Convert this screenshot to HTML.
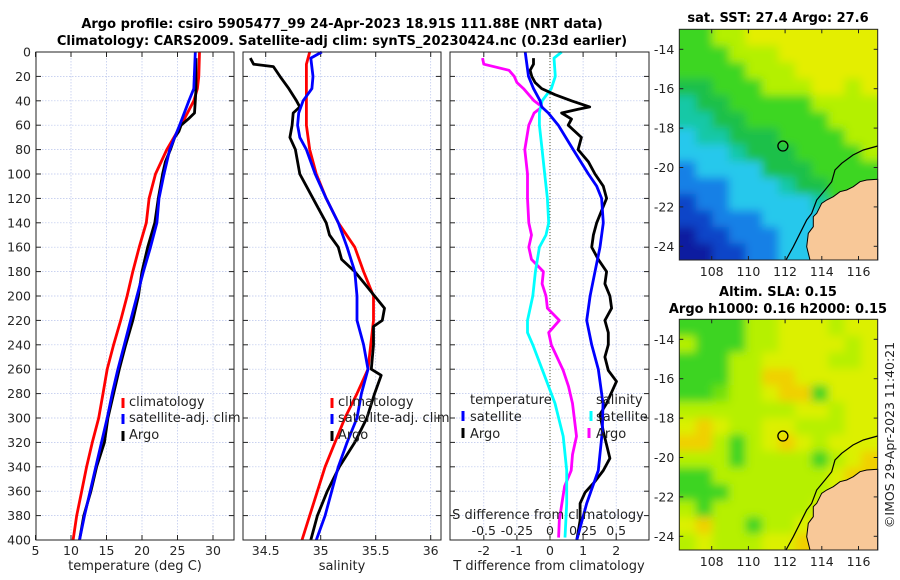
<!DOCTYPE html>
<html><head><meta charset="utf-8"><style>
body{margin:0;background:#fff;}
svg{display:block;font-family:"DejaVu Sans","Liberation Sans",sans-serif;}
</style></head><body>
<svg id="fig" width="900" height="580" viewBox="0 0 900 580" xmlns="http://www.w3.org/2000/svg">
<defs>
<filter id="blur" x="-5%" y="-5%" width="110%" height="110%"><feGaussianBlur stdDeviation="4.5" edgeMode="duplicate"/></filter>
<clipPath id="clip1"><rect x="679.3" y="29.3" width="198.4" height="230.7"/></clipPath>
<clipPath id="clip2"><rect x="679.3" y="319.3" width="198.4" height="230.7"/></clipPath>
</defs>
<text x="342" y="28" text-anchor="middle" font-size="13" font-weight="bold" fill="#000">Argo profile: csiro 5905477_99 24-Apr-2023 18.91S 111.88E (NRT data)</text>
<text x="342" y="45" text-anchor="middle" font-size="13" font-weight="bold" fill="#000">Climatology: CARS2009. Satellite-adj clim: synTS_20230424.nc (0.23d earlier)</text>
<text x="778" y="22" text-anchor="middle" font-size="13" font-weight="bold">sat. SST: 27.4 Argo: 27.6</text>
<text x="778" y="296" text-anchor="middle" font-size="13" font-weight="bold">Altim. SLA: 0.15</text>
<text x="778" y="313" text-anchor="middle" font-size="13" font-weight="bold">Argo h1000: 0.16 h2000: 0.15</text>
<text transform="translate(894,435) rotate(-90)" text-anchor="middle" font-size="12.5" fill="#222">©IMOS 29-Apr-2023 11:40:21</text>
<g id="g"></g>
</svg>
<script>
// ---------- data ----------
const depthsClimT = [0,20,30,40,60,80,100,120,140,160,180,200,220,240,260,280,300,320,340,360,380,400];
const climTemp   = [28.1,28.0,27.8,27.3,25.5,23.5,21.9,21.0,20.6,19.6,18.7,17.9,17.0,16.0,15.1,14.5,13.9,13.0,12.2,11.5,10.8,10.3];
const depthsSatT = [0,30,40,60,80,100,120,140,160,180,200,220,240,260,280,300,320,340,360,380,400];
const satTemp    = [27.5,27.3,26.6,25.3,23.9,23.1,22.4,22.1,21.2,20.2,19.3,18.4,17.5,16.6,15.8,15.1,14.3,13.5,12.7,11.9,11.2];
const depthsArgo = [5,10,20,30,40,50,55,60,65,70,80,90,100,110,120,140,160,180,200,220,240,260,280,300,320,340,360,380,400];
const argoTemp   = [27.6,27.6,27.6,27.6,27.5,27.4,26.5,25.5,25.2,24.6,24.0,23.3,22.9,22.6,22.3,21.8,20.8,20.0,19.5,18.7,17.7,16.8,16.0,15.2,14.7,13.6,12.8,11.8,11.2];

const depthsClimS = [0,10,60,80,100,120,140,160,180,200,220,260,280,300,340,380,400];
const climSal     = [34.90,34.87,34.87,34.90,34.96,35.05,35.16,35.31,35.39,35.48,35.48,35.43,35.33,35.22,35.04,34.90,34.83];
const depthsSatS  = [0,5,20,30,40,50,60,70,80,100,120,140,160,180,200,220,240,260,280,300,320,340,360,380,400];
const satSal      = [35.01,34.91,34.93,34.92,34.84,34.80,34.79,34.81,34.87,34.95,35.05,35.16,35.24,35.31,35.33,35.33,35.39,35.43,35.37,35.33,35.24,35.16,35.10,35.04,34.96];
const depthsArgoS = [5,10,12,20,30,40,45,50,60,70,80,100,110,120,140,150,160,170,180,190,200,210,220,225,240,260,265,275,280,300,320,340,360,380,400];
const argoSal     = [34.36,34.39,34.57,34.63,34.71,34.78,34.81,34.75,34.74,34.72,34.77,34.81,34.87,34.93,35.05,35.08,35.16,35.19,35.31,35.40,35.49,35.58,35.56,35.48,35.48,35.46,35.55,35.51,35.49,35.42,35.31,35.17,35.06,34.97,34.91];

const depthsDT    = [0,20,30,40,45,50,60,80,100,110,120,140,160,180,200,220,240,260,288,311,343,370,400];
const satTdiff    = [-0.75,-0.65,-0.50,-0.30,-0.25,-0.05,0.25,0.70,1.16,1.41,1.56,1.61,1.51,1.36,1.21,1.11,1.26,1.46,1.60,1.58,1.46,1.11,0.81];
const depthsADT   = [5,10,15,20,25,30,35,40,45,47,50,55,60,70,80,90,100,110,120,130,140,150,160,170,180,190,200,210,220,230,240,250,261,270,288,297,311,333,343,352,361,370,384,400];
const argoTdiff   = [-0.50,-0.50,-0.60,-0.55,-0.45,-0.25,0.15,0.65,1.20,0.85,0.35,0.65,0.55,0.95,0.85,1.16,1.36,1.61,1.71,1.56,1.41,1.31,1.26,1.46,1.71,1.66,1.81,1.86,1.66,1.76,1.76,1.66,1.76,2.01,1.71,1.51,1.61,1.81,1.61,1.36,1.06,0.91,0.91,0.81];
const depthsDS    = [0,5,20,30,40,50,60,80,100,120,140,150,160,180,200,220,230,240,260,270,288,315,343,370,398];
const satSdiff    = [0.088,0.03,0.04,0.01,-0.06,-0.08,-0.08,-0.06,-0.04,-0.02,-0.01,-0.03,-0.08,-0.11,-0.13,-0.17,-0.17,-0.13,-0.06,-0.025,0.038,0.10,0.126,0.126,0.113];
const depthsADS   = [5,10,15,20,25,30,40,45,50,60,80,100,120,140,150,160,170,180,190,200,210,220,230,240,261,274,288,315,330,343,356,370,384,398];
const argoSdiff   = [-0.51,-0.50,-0.31,-0.27,-0.25,-0.20,-0.12,-0.06,-0.12,-0.16,-0.19,-0.17,-0.17,-0.16,-0.14,-0.16,-0.14,-0.05,-0.06,-0.03,-0.02,0.07,-0.01,0.01,0.10,0.14,0.17,0.20,0.17,0.16,0.11,0.09,0.07,0.065];

const depthTicks = [0,20,40,60,80,100,120,140,160,180,200,220,240,260,280,300,320,340,360,380,400];
const tempTicks = [5,10,15,20,25,30];
const salTicks = [34.5,35,35.5,36];
const tdiffTicks = [-2,-1,0,1,2];
const sdiffTicks = [-0.5,-0.25,0,0.25,0.5];
const sdiffLabels = ['-0.5','-0.25','0','0.25','0.5'];
const latTicks = [-14,-16,-18,-20,-22,-24];
const lonTicks = [108,110,112,114,116];

const sstGrid = [
"GGLLYYYYYYYY","GGGLLLYYYYYY","GGGGLLLYYYYY","DDGGGLLLYYLY","TDDGGGGGLLLL","TTDDGGGGGLLL",
"CTTDDDGGGGLL","CCCTDDDGGGGL","BCCCCDDDGGGG","BBBCCCTDDGGG","NBBCCCCCTGGT","NNBBBCCCCTTC",
"KNNBBBCCCCBC","KKNNBBCCCCNC"];
const slaGrid = [
"GGGGLLYYYLYY","LGGGLLYYYYLY","GGGLLYYYYLLY","GGGLLOOYYYYY","GGMLLYOOGYYY","LLLLLLLYYLYY",
"YOYLLYYLLLYY","OOLGLYOYLYYY","LLLGLLLLGLYO","GGLLLLLLLYOO","GGGLLLLLLYOO","LGLLLLLLYOOO",
"YOLLGLLYOOOO","LYLLLYYOOOOO"];
const sstColors = {Y:"#e4ee00",L:"#b4f000",G:"#3ed624",D:"#1ec04a",T:"#14c8a6",C:"#28c8ec",B:"#1680e6",N:"#1044c8",K:"#0a1aa0"};
const slaColors = {Y:"#dcf000",O:"#f0d000",L:"#b6f000",G:"#3cd420",M:"#72e010"};

// ---------- helpers ----------
const NS="http://www.w3.org/2000/svg";
const root=document.getElementById('g');
function el(tag,attrs,parent){const e=document.createElementNS(NS,tag);for(const k in attrs)e.setAttribute(k,attrs[k]);(parent||root).appendChild(e);return e;}
const top0=52, bot0=540;
const yD = d => top0 + d*(bot0-top0)/400;
function lin(d0,d1,r0,r1){return v=>r0+(v-d0)*(r1-r0)/(d1-d0);}

function panel(name,x0,x1,xs,ticks,labels,showY){
  const g=el('g',{});
  
  
  el('rect',{x:x0,y:top0,width:x1-x0,height:bot0-top0,fill:'#fff'},g);
  depthTicks.forEach(d=>{
    const y=yD(d);
    if(d>0&&d<400){const gl=el('line',{x1:x0,x2:x1,y1:y,y2:y,stroke:'#b8c4ec','stroke-width':0.7,'stroke-dasharray':'1.5,1.5'},g);
    }
    el('line',{x1:x0,x2:x0+5,y1:y,y2:y,stroke:'#222'},g);
    el('line',{x1:x1-5,x2:x1,y1:y,y2:y,stroke:'#222'},g);
    if(showY){const t=el('text',{x:x0-5,y:y+4.5,'text-anchor':'end','font-size':12.5,fill:'#262626'},g);t.textContent=d;
      }
  });
  ticks.forEach((v,i)=>{
    const x=xs(v);
    if(x>x0+1&&x<x1-1){const gl=el('line',{x1:x,x2:x,y1:top0,y2:bot0,stroke:'#b8c4ec','stroke-width':0.7,'stroke-dasharray':'1.5,1.5'},g);
      }
    el('line',{x1:x,x2:x,y1:bot0,y2:bot0-5,stroke:'#222'},g);
    el('line',{x1:x,x2:x,y1:top0,y2:top0+5,stroke:'#222'},g);
    const t=el('text',{x:x,y:bot0+15,'text-anchor':'middle','font-size':12.5,fill:'#262626'},g);t.textContent=labels[i];
    
  });
  return g;
}
function frame(g,x0,x1){el('rect',{x:x0,y:top0,width:x1-x0,height:bot0-top0,fill:'none',stroke:'#222','stroke-width':1},g);}
function series(g,name,depths,vals,xs,color){
  const pts=depths.map((d,i)=>xs(vals[i]).toFixed(1)+','+yD(d).toFixed(1)).join(' ');
  const p=el('polyline',{points:pts,fill:'none',stroke:color,'stroke-width':2.8,'stroke-linejoin':'round'},g);
  
  
}
function txt(g,name,x,y,s,size,anchor){const t=el('text',{x:x,y:y,'font-size':size||13,fill:'#222','text-anchor':anchor||'start'},g);t.textContent=s;
  return t;}
function mark(g,x,y,color){const m=el('line',{x1:x,x2:x,y1:y-10,y2:y,stroke:color,'stroke-width':3},g);
  }

// ---------- panel 1 temperature ----------
const xT=lin(5,30,35.5,213);
const p1=panel('temperature-panel',36,234,xT,tempTicks,tempTicks.map(String),true);
series(p1,'climatology-temperature-line',depthsClimT,climTemp,xT,'#f00');
series(p1,'argo-temperature-line',depthsArgo,argoTemp,xT,'#000');
series(p1,'satellite-temperature-line',depthsSatT,satTemp,xT,'#00f');
frame(p1,36,234);
mark(p1,123,408,'#f00');txt(p1,'legend-climatology',129,406,'climatology');
mark(p1,123,424,'#00f');txt(p1,'legend-satellite-adj',129,422,'satellite-adj. clim');
mark(p1,123,441,'#000');txt(p1,'legend-argo',129,439,'Argo');
txt(p1,'temperature-axis-title',135,570,'temperature (deg C)',13,'middle');

// ---------- panel 2 salinity ----------
const xS=lin(34.5,36,265.7,430.7);
const p2=panel('salinity-panel',243,441,xS,salTicks,['34.5','35','35.5','36'],false);
series(p2,'climatology-salinity-line',depthsClimS,climSal,xS,'#f00');
series(p2,'argo-salinity-line',depthsArgoS,argoSal,xS,'#000');
series(p2,'satellite-salinity-line',depthsSatS,satSal,xS,'#00f');
frame(p2,243,441);
mark(p2,332,408,'#f00');txt(p2,'legend-climatology-2',338,406,'climatology');
mark(p2,332,424,'#00f');txt(p2,'legend-satellite-adj-2',338,422,'satellite-adj. clim');
mark(p2,332,441,'#000');txt(p2,'legend-argo-2',338,439,'Argo');
txt(p2,'salinity-axis-title',342,570,'salinity',13,'middle');

// ---------- panel 3 differences ----------
const xDT=lin(0,1,550,583.1);
const xDS=lin(0,0.25,550,583.1);
const p3=panel('difference-panel',450,649,xDT,tdiffTicks,tdiffTicks.map(String),false);
const zl=el('line',{x1:xDT(0),x2:xDT(0),y1:top0,y2:bot0,stroke:'#555533','stroke-width':1,'stroke-dasharray':'1,2'},p3);

series(p3,'argo-salinity-diff-line',depthsADS,argoSdiff,xDS,'#f0f');
series(p3,'satellite-salinity-diff-line',depthsDS,satSdiff,xDS,'#0ff');
series(p3,'argo-temperature-diff-line',depthsADT,argoTdiff,xDT,'#000');
series(p3,'satellite-temperature-diff-line',depthsDT,satTdiff,xDT,'#00f');
frame(p3,450,649);
txt(p3,'legend-temperature-header',470,404,'temperature');
mark(p3,463,421,'#00f');txt(p3,'legend-temp-satellite',470,421,'satellite');
mark(p3,463,438,'#000');txt(p3,'legend-temp-argo',470,438,'Argo');
txt(p3,'legend-salinity-header',596,404,'salinity');
mark(p3,591,421,'#0ff');txt(p3,'legend-sal-satellite',596,421,'satellite');
mark(p3,589,438,'#f0f');txt(p3,'legend-sal-argo',596,438,'Argo');
txt(p3,'s-diff-axis-title',548,519,'S difference from climatology',13,'middle');
sdiffTicks.forEach((v,i)=>{txt(p3,'s-diff-tick-label',xDS(v),535,sdiffLabels[i],12.5,'middle');});
txt(p3,'t-diff-axis-title',549,570,'T difference from climatology',13,'middle');

// ---------- maps ----------
function map(name,yoff,grid,colors,clipId){
  const g=el('g',{});
  
  
  const L=679.3,R=877.7,T=29.3+yoff,B=260+yoff;
  const cols=grid[0].length,rows=grid.length,cw=(R-L)/cols,ch=(B-T)/rows;
  const cg=el('g',{'clip-path':'url(#'+clipId+')'},g);
  const bg=el('g',{filter:'url(#blur)'},cg);
  for(let r=-1;r<=rows;r++){const row=grid[Math.min(rows-1,Math.max(0,r))];
    for(let c=-1;c<=cols;c++){const ch_=row[Math.min(cols-1,Math.max(0,c))];
      el('rect',{x:(L+c*cw).toFixed(2),y:(T+r*ch).toFixed(2),width:(cw+0.5).toFixed(2),height:(ch+0.5).toFixed(2),fill:colors[ch_]},bg);}}
  const o=(x,y)=>x+','+(y+yoff);
  const land=[[877.7,179.3],[866.7,180],[860,181.7],[853.3,186.7],[846.7,190],[840,191.7],[833.3,196.7],[826.7,200],[821.7,203.3],[816.7,213.3],[813.3,216.7],[813.3,226.7],[808.3,233.3],[806.7,246.7],[810,260],[877.7,260]];
  const lp=el('polygon',{points:land.map(p=>o(p[0],p[1])).join(' '),fill:'#f8c898',stroke:'#000','stroke-width':1},g);
  
  const coast=[[877.7,146],[863.3,150],[853,155],[841.7,163.3],[835,170],[831.7,181.7],[825,190],[816.7,200],[811.7,213.3],[806.7,220],[800,233.3],[793.3,246.7],[786,260]];
  const cp=el('polyline',{points:coast.map(p=>o(p[0],p[1])).join(' '),fill:'none',stroke:'#000','stroke-width':1.2},g);
  
  const lonX=lin(108,110,711.7,748.4), latY=lin(-14,-16,49.3+yoff,88.7+yoff);
  const ac=el('circle',{cx:lonX(111.88),cy:latY(-18.91),r:5,fill:'none',stroke:'#000','stroke-width':1.3},g);
  
  el('rect',{x:L,y:T,width:R-L,height:B-T,fill:'none',stroke:'#222','stroke-width':1},g);
  latTicks.forEach(v=>{const y=latY(v);
    el('line',{x1:L,x2:L+4,y1:y,y2:y,stroke:'#222'},g);el('line',{x1:R-4,x2:R,y1:y,y2:y,stroke:'#222'},g);
    txt(g,'lat-tick-label',L-5,y+4.5,String(v),12.5,'end');});
  lonTicks.forEach(v=>{const x=lonX(v);
    el('line',{x1:x,x2:x,y1:B,y2:B-4,stroke:'#222'},g);el('line',{x1:x,x2:x,y1:T,y2:T+4,stroke:'#222'},g);
    txt(g,'lon-tick-label',x,B+16,String(v),12.5,'middle');});
}
map('sst-map',0,sstGrid,sstColors,'clip1');
map('sla-map',290,slaGrid,slaColors,'clip2');
</script>
</body></html>
